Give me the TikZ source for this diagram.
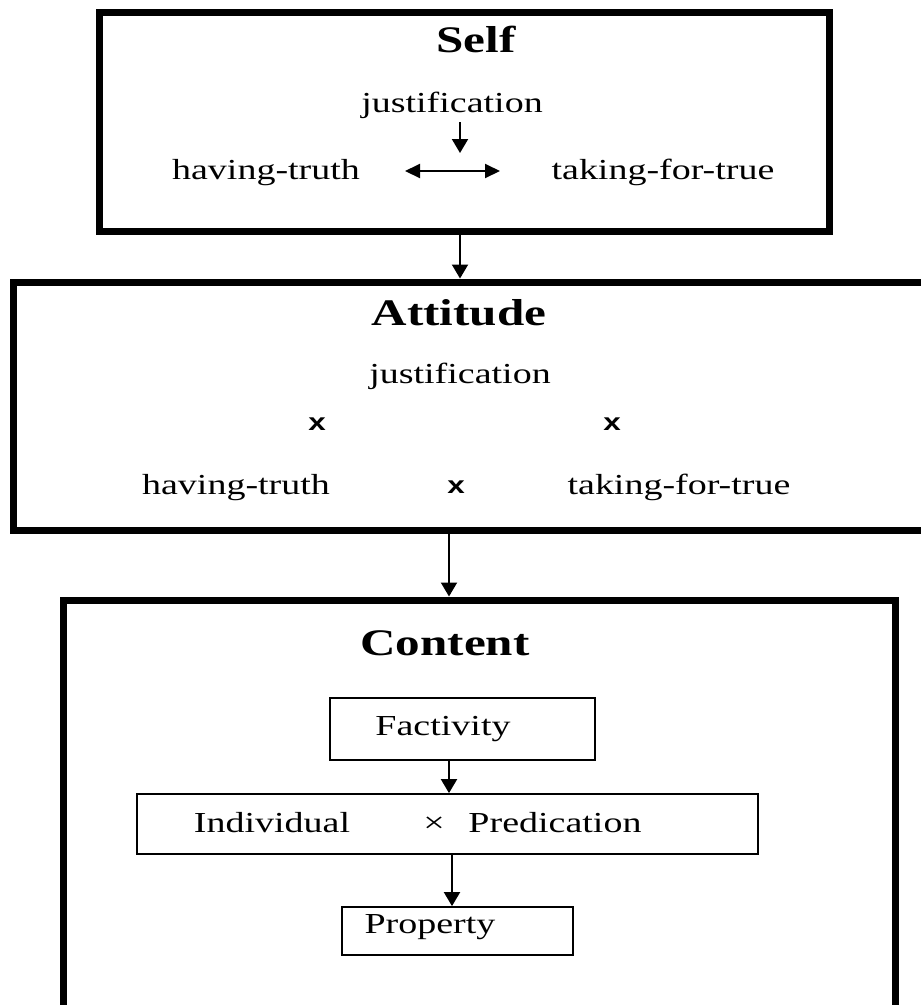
\documentclass[tikz,border=0pt]{standalone}
\usepackage{fontspec}
\setmainfont[FakeStretch=1.31]{Liberation Serif}
\newfontfamily\xsans[FakeStretch=1.31]{Liberation Sans}
\usetikzlibrary{arrows.meta}
\begin{document}
\begin{tikzpicture}[x=1pt,y=-1pt,
  txt/.style={anchor=base,inner sep=0pt,font=\fontsize{29}{34}\selectfont},
  ttl/.style={anchor=base,inner sep=0pt,font=\fontsize{37.5}{44}\selectfont\bfseries},
  xm/.style={anchor=base,inner sep=0pt,font=\xsans\bfseries\fontsize{24}{28}\selectfont},
  bigbox/.style={draw,line width=7pt,inner sep=0pt},
  smallbox/.style={draw,line width=1.8pt,inner sep=0pt},
  arr/.style={line width=2pt,-{Triangle[width=16pt,length=14pt]}},
  darr/.style={line width=2pt,{Triangle[width=14pt,length=15pt]}-{Triangle[width=14pt,length=15pt]}}]
\useasboundingbox (0,0) rectangle (921,1005);
\clip (0,0) rectangle (921,1005);
\fill[white] (0,0) rectangle (921,1005);
% big boxes
\node[bigbox,minimum width=730,minimum height=219] (self) at (464,121.5) {};
\node[bigbox,minimum width=922,minimum height=248] (att) at (474,406) {};
\node[bigbox,minimum width=832,minimum height=408] (con) at (479,804) {};
% small boxes
\node[smallbox,minimum width=265,minimum height=62] (fact) at (462.5,729) {};
\node[smallbox,minimum width=621,minimum height=60] (ind) at (447.5,824) {};
\node[smallbox,minimum width=231,minimum height=48] (prop) at (457.5,931) {};
% Self texts
\node[ttl] (selft) at (476,52) {Self};
\node[txt] (sjust) at (452,112) {justification};
\node[txt] (sht) at (266,179) {having-truth};
\node[txt] (stft) at (663,179) {taking-for-true};
\coordinate (sa1) at (460,122);
\coordinate (sa2) at (460,153);
\coordinate (sd1) at (405,171);
\coordinate (sd2) at (500,171);
\draw[arr] (sa1) -- (sa2);
\draw[darr] (sd1) -- (sd2);
% Attitude texts
\node[ttl] (attt) at (459,325) {Attitude};
\node[txt] (ajust) at (460,383) {justification};
\node[xm] (ax1) at (317,430) {x};
\node[xm] (ax2) at (612,430) {x};
\node[xm] (ax3) at (456,493) {x};
\node[txt] (aht) at (236,494) {having-truth};
\node[txt] (atft) at (679,494) {taking-for-true};
% Content texts
\node[ttl] (cont) at (445,655) {Content};
\node[txt] (facttxt) at (443,735) {Factivity};
\node[txt] (indtxt) at (272,832) {Individual};
\node[txt] (times) at (434,832) {×};
\node[txt] (predtxt) at (555,832) {Predication};
\node[txt] (proptxt) at (430,933) {Property};
% connectors
\coordinate (x1) at (460,0);
\coordinate (x2) at (449,0);
\coordinate (x3) at (449,0);
\coordinate (x4) at (452,0);
\draw[arr] (self.south -| x1) -- (att.north -| x1);
\draw[arr] (att.south -| x2) -- (con.north -| x2);
\draw[arr] (fact.south -| x3) -- (ind.north -| x3);
\draw[arr] (ind.south -| x4) -- (prop.north -| x4);
\end{tikzpicture}
\end{document}
